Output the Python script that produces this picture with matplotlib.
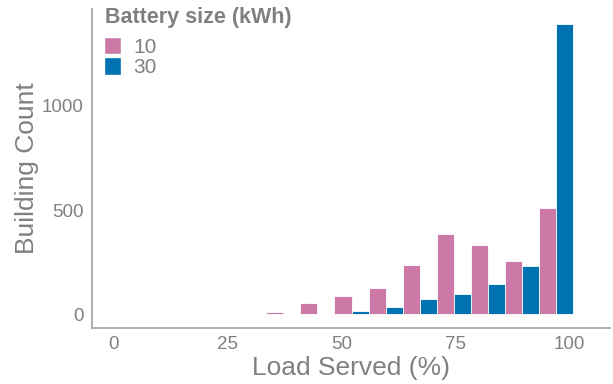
import matplotlib
matplotlib.use("Agg")
import matplotlib.pyplot as plt
from matplotlib.patches import Patch

plt.rcParams['font.family'] = ['Liberation Sans', 'DejaVu Sans']

# Histogram bins (centres, % load served) and building counts per battery size
bin_centers = [37.2, 44.7, 52.2, 59.7, 67.2, 74.7, 82.2, 89.7, 97.2]
bin_width = 7.5
counts_10kwh = [10, 55, 85, 124, 238, 387, 330, 253, 512]
counts_30kwh = [0, 2, 13, 32, 72, 98, 145, 233, 1396]
battery_sizes = ["10", "30"]
colors = ["#CC79A7", "#0072B2"]

x_ticks = [0, 25, 50, 75, 100]
y_ticks = [0, 500, 1000]

grey = "#808080"

W, H = 613, 384
fig = plt.figure(figsize=(W / 100, H / 100), dpi=100)
ax = fig.add_axes([91.7 / W, (H - 328) / H, (610 - 91.7) / W, (328 - 9) / H])

half = bin_width / 2
left_pos = [c - half / 2 for c in bin_centers]
right_pos = [c + half / 2 for c in bin_centers]
ax.bar(left_pos, counts_10kwh, width=half, color=colors[0], edgecolor="white", linewidth=0.6)
ax.bar(right_pos, counts_30kwh, width=half, color=colors[1], edgecolor="white", linewidth=0.6)

ax.set_xlim(-4.9, 109.0)
ax.set_ylim(-67, 1466)
ax.set_xticks(x_ticks)
ax.set_yticks(y_ticks)
ax.tick_params(length=0, labelsize=13.5, labelcolor=grey, pad=6)

for s in ["top", "right"]:
    ax.spines[s].set_visible(False)
for s in ["left", "bottom"]:
    ax.spines[s].set_color("#a0a0a0")
    ax.spines[s].set_linewidth(1.2)

ax.set_xlabel("Load Served (%)", fontsize=19, color=grey, labelpad=2)
ax.set_ylabel("Building Count", fontsize=19, color=grey, labelpad=2)

# Legend: bold title plus square colour keys
fig.text(105 / W, 1 - 7 / H, "Battery size (kWh)", ha="left", va="top",
         fontsize=15.5, fontweight="bold", color=grey)
handles = [Patch(facecolor=c, edgecolor="white") for c in colors]
leg = fig.legend(handles, battery_sizes, loc="upper left",
                 bbox_to_anchor=(104 / W, 1 - 36.5 / H), frameon=False,
                 fontsize=15, handlelength=0.8, handleheight=0.95,
                 handletextpad=0.6, labelspacing=0.0, borderaxespad=0,
                 borderpad=0)
for t in leg.get_texts():
    t.set_color(grey)

fig.savefig("out.png", dpi=100)
